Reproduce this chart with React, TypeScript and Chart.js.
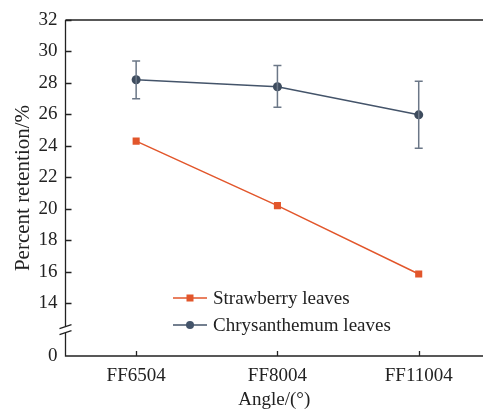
import React, { useEffect, useRef } from "react";
import { Chart, registerables } from "chart.js";

Chart.register(...registerables);

const categories = ["FF6504", "FF8004", "FF11004"];
const strawberry = [24.3, 20.2, 15.85];
const chrysanthemum = [28.2, 27.76, 25.97];
const chrysErrLow = [27.0, 26.45, 23.85];
const chrysErrHigh = [29.4, 29.1, 28.1];
const yTicks = [0, 14, 16, 18, 20, 22, 24, 26, 28, 30, 32];
const BREAK_BASE = 10.64; // where "0" sits on the broken axis

const FONT = "'Liberation Serif', 'Times New Roman', serif";
const ORANGE = "#e2562b";
const SLATE = "#44546a";
const ERR = "#6b7787";

const toAxis = (v: number) => (v === 0 ? BREAK_BASE : v);

const decorPlugin = {
  id: "decor",
  afterDatasetsDraw(chart: any) {
    const ctx = chart.ctx;
    const ys = chart.scales.y;
    const xs = chart.scales.x;
    ctx.save();
    ctx.strokeStyle = ERR;
    ctx.lineWidth = 1.5;
    chrysanthemum.forEach((_, i) => {
      const x = xs.getPixelForValue(i);
      const y1 = ys.getPixelForValue(chrysErrLow[i]);
      const y2 = ys.getPixelForValue(chrysErrHigh[i]);
      ctx.beginPath();
      ctx.moveTo(x, y1);
      ctx.lineTo(x, y2);
      ctx.moveTo(x - 4, y1);
      ctx.lineTo(x + 4, y1);
      ctx.moveTo(x - 4, y2);
      ctx.lineTo(x + 4, y2);
      ctx.stroke();
    });
    ctx.restore();
  },
  afterDraw(chart: any) {
    const ctx = chart.ctx;
    const { left, right, top, bottom } = chart.chartArea;
    const ys = chart.scales.y;
    const xs = chart.scales.x;
    ctx.save();
    ctx.strokeStyle = "#222";
    ctx.lineWidth = 1.3;
    ctx.beginPath();
    ctx.moveTo(left, top);
    ctx.lineTo(right, top);
    ctx.moveTo(left, top);
    ctx.lineTo(left, bottom);
    ctx.lineTo(right, bottom);
    ctx.stroke();
    ctx.beginPath();
    yTicks.forEach((v) => {
      if (v === 0) return;
      const y = Math.round(ys.getPixelForValue(toAxis(v))) + 0.5;
      ctx.moveTo(left, y);
      ctx.lineTo(left + 6, y);
    });
    categories.forEach((_, i) => {
      const x = Math.round(xs.getPixelForValue(i)) + 0.5;
      ctx.moveTo(x, bottom);
      ctx.lineTo(x, bottom - 5);
    });
    ctx.stroke();
    // axis break
    const by = ys.getPixelForValue(12.45);
    ctx.fillStyle = "#fff";
    ctx.beginPath();
    ctx.moveTo(left - 6, by + 1);
    ctx.lineTo(left + 6, by - 3);
    ctx.lineTo(left + 6, by + 3);
    ctx.lineTo(left - 6, by + 7);
    ctx.closePath();
    ctx.fill();
    ctx.beginPath();
    ctx.moveTo(left - 6, by + 1);
    ctx.lineTo(left + 6, by - 3);
    ctx.moveTo(left - 6, by + 7);
    ctx.lineTo(left + 6, by + 3);
    ctx.stroke();
    // legend
    const items = [
      { label: "Strawberry leaves", color: ORANGE, shape: "rect", y: 298 },
      { label: "Chrysanthemum leaves", color: SLATE, shape: "circle", y: 325 },
    ];
    ctx.font = `19px ${FONT}`;
    ctx.textBaseline = "middle";
    items.forEach((it) => {
      ctx.strokeStyle = it.color;
      ctx.fillStyle = it.color;
      ctx.lineWidth = 1.5;
      ctx.beginPath();
      ctx.moveTo(173, it.y);
      ctx.lineTo(207, it.y);
      ctx.stroke();
      if (it.shape === "rect") {
        ctx.fillRect(186.5, it.y - 3.5, 7, 7);
      } else {
        ctx.beginPath();
        ctx.arc(190, it.y, 4, 0, Math.PI * 2);
        ctx.fill();
      }
      ctx.fillStyle = "#222";
      ctx.fillText(it.label, 213, it.y + 1);
    });
    ctx.restore();
  },
};

export default function App() {
  const ref = useRef<HTMLCanvasElement>(null);
  useEffect(() => {
    document.body.style.margin = "0";
    const chart = new Chart(ref.current!, {
      type: "line",
      data: {
        datasets: [
          {
            label: "Strawberry leaves",
            data: strawberry.map((v, i) => ({ x: i, y: v })),
            borderColor: ORANGE,
            backgroundColor: ORANGE,
            borderWidth: 1.5,
            pointStyle: "rect",
            pointRadius: 5,
            pointBorderWidth: 0,
          },
          {
            label: "Chrysanthemum leaves",
            data: chrysanthemum.map((v, i) => ({ x: i, y: v })),
            borderColor: SLATE,
            backgroundColor: "#3e4c5e",
            borderWidth: 1.5,
            pointStyle: "circle",
            pointRadius: 4.5,
            pointBorderWidth: 0,
          },
        ],
      },
      options: {
        animation: false,
        responsive: false,
        layout: { padding: { top: 20, left: 0, right: 0, bottom: 0 } },
        plugins: { legend: { display: false }, tooltip: { enabled: false } },
        scales: {
          x: {
            type: "linear",
            min: -0.5,
            max: 2.455,
            grid: { display: false },
            border: { display: false },
            afterBuildTicks: (s: any) => {
              s.ticks = categories.map((_, i) => ({ value: i }));
            },
            afterFit: (s: any) => {
              s.height = 54;
            },
            ticks: {
              color: "#222",
              font: { family: FONT, size: 19 },
              padding: 1,
              maxRotation: 0,
              autoSkip: false,
              callback: (v: any) => categories[v as number],
            },
            title: {
              display: true,
              text: "Angle/(°)",
              color: "#222",
              font: { family: FONT, size: 19, lineHeight: 1 },
              padding: 0,
            },
          },
          y: {
            type: "linear",
            min: BREAK_BASE,
            max: 32,
            grid: { display: false },
            border: { display: false },
            afterBuildTicks: (s: any) => {
              s.ticks = yTicks.map((v) => ({ value: toAxis(v) }));
            },
            afterFit: (s: any) => {
              s.width = 65.5;
            },
            ticks: {
              color: "#222",
              font: { family: FONT, size: 19 },
              padding: 0,
              autoSkip: false,
              callback: (v: any) => (v < 14 ? "0" : String(v)),
            },
            title: {
              display: true,
              text: "Percent retention/%",
              color: "#222",
              font: { family: FONT, size: 21 },
              padding: { top: 10.5, bottom: 0 },
            },
          },
        },
      },
      plugins: [decorPlugin],
    });
    return () => chart.destroy();
  }, []);
  return (
    <div style={{ width: 488, height: 410 }}>
      <canvas ref={ref} width={488} height={410} style={{ display: "block" }} />
    </div>
  );
}
